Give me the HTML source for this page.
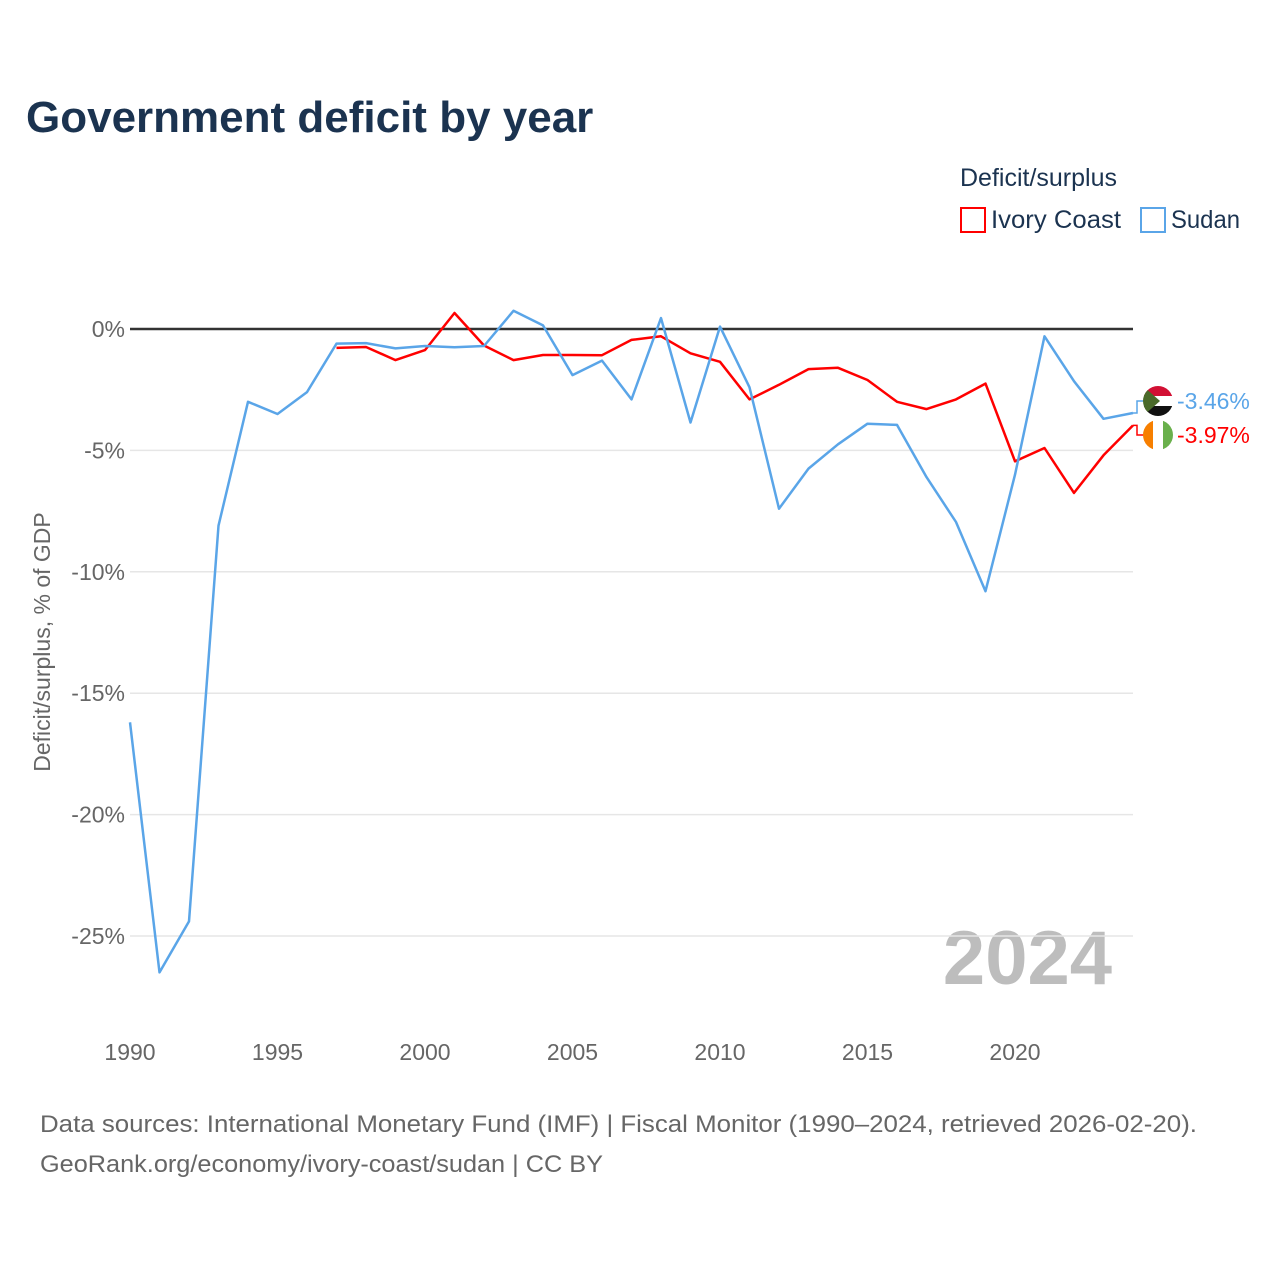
<!DOCTYPE html>
<html><head><meta charset="utf-8"><style>
body{margin:0;width:1280px;height:1280px;background:#fff;font-family:"Liberation Sans",sans-serif;overflow:hidden}
</style></head><body>
<svg id="c" width="1280" height="1280" xmlns="http://www.w3.org/2000/svg">
<text x="26" y="132" font-size="44" font-weight="bold" fill="#1b3350">Government deficit by year</text>
<text x="960" y="186" font-size="25" fill="#1b3350">Deficit/surplus</text>
<g><rect x="961" y="208" width="24" height="24" fill="none" stroke="#ff0000" stroke-width="2"/><text x="991" y="228" font-size="25" fill="#1b3350" textLength="130" lengthAdjust="spacingAndGlyphs">Ivory Coast</text></g>
<g><rect x="1141" y="208" width="24" height="24" fill="none" stroke="#5aa5e8" stroke-width="2"/><text x="1171" y="228" font-size="25" fill="#1b3350" textLength="69" lengthAdjust="spacingAndGlyphs">Sudan</text></g>
<text transform="translate(50,642) rotate(-90)" text-anchor="middle" font-size="23" fill="#666">Deficit/surplus, % of GDP</text>
<text x="1112" y="984" text-anchor="end" font-size="76" font-weight="bold" fill="#bdbdbd">2024</text>
<text x="40" y="1132" font-size="24" fill="#666" textLength="1157" lengthAdjust="spacingAndGlyphs">Data sources: International Monetary Fund (IMF) | Fiscal Monitor (1990–2024, retrieved 2026-02-20).</text>
<text x="40" y="1172" font-size="24" fill="#666" textLength="563" lengthAdjust="spacingAndGlyphs">GeoRank.org/economy/ivory-coast/sudan | CC BY</text>
<g id="plot"></g>
</svg>
<script>
const years=[];for(let y=1990;y<=2024;y++)years.push(y);
const sudan=[-16.2,-26.5,-24.4,-8.1,-3.0,-3.5,-2.6,-0.6,-0.58,-0.8,-0.7,-0.75,-0.7,0.75,0.15,-1.9,-1.3,-2.9,0.45,-3.85,0.1,-2.4,-7.4,-5.75,-4.75,-3.9,-3.95,-6.1,-7.95,-10.8,-6.0,-0.3,-2.15,-3.7,-3.46];
const ivory=[null,null,null,null,null,null,null,-0.78,-0.74,-1.28,-0.87,0.66,-0.68,-1.28,-1.07,-1.07,-1.08,-0.45,-0.3,-1.0,-1.35,-2.9,-2.3,-1.65,-1.6,-2.1,-3.0,-3.3,-2.9,-2.25,-5.45,-4.9,-6.75,-5.2,-3.97];
const yTicks=[0,-5,-10,-15,-20,-25];
const xTicks=[1990,1995,2000,2005,2010,2015,2020];
const NS="http://www.w3.org/2000/svg";
const X=y=>130+(y-1990)*(1133-130)/34;
const Y=v=>329-v*24.28;
const g=document.getElementById('plot');
function mk(t,a){const e=document.createElementNS(NS,t);for(const k in a)e.setAttribute(k,a[k]);g.appendChild(e);return e;}
yTicks.forEach(v=>{
 const l=mk('line',{x1:130,x2:1133,y1:Y(v),y2:Y(v),stroke:v===0?'#333':'#e6e6e6','stroke-width':v===0?2.5:1.5});
 
 
 const t=mk('text',{x:125,y:Y(v)+8,'text-anchor':'end','font-size':23,fill:'#666'});t.textContent=v+'%';
 
 
});
xTicks.forEach(yr=>{
 const t=mk('text',{x:X(yr),y:1060,'text-anchor':'middle','font-size':23,fill:'#666'});t.textContent=yr;
 
 
});
function line(vals,col,name){
 let d='';vals.forEach((v,i)=>{if(v===null)return;d+=(d?'L':'M')+X(years[i]).toFixed(1)+','+Y(v).toFixed(1);});
 const p=mk('path',{d:d,fill:'none',stroke:col,'stroke-width':2.5,'stroke-linejoin':'round'});
 
 
}
line(ivory,'#ff0000','ivory-coast-line');
line(sudan,'#5aa5e8','sudan-line');
const sl=sudan[sudan.length-1],il=ivory[ivory.length-1];
const sy=401,iy=435;
mk('path',{d:`M${X(2024)},${Y(sl)}H1137V${sy}H1145`,fill:'none',stroke:'#5aa5e8','stroke-width':1.5});
mk('path',{d:`M${X(2024)},${Y(il)}H1137V${iy}H1145`,fill:'none',stroke:'#ff0000','stroke-width':1.5});
const cp=document.createElementNS(NS,'clipPath');cp.setAttribute('id','cs');const cc=document.createElementNS(NS,'circle');cc.setAttribute('cx',1158);cc.setAttribute('cy',sy);cc.setAttribute('r',15);cp.appendChild(cc);g.appendChild(cp);
const cp2=document.createElementNS(NS,'clipPath');cp2.setAttribute('id','ci');const cc2=document.createElementNS(NS,'circle');cc2.setAttribute('cx',1158);cc2.setAttribute('cy',iy);cc2.setAttribute('r',15);cp2.appendChild(cc2);g.appendChild(cp2);
[['#d21034',0],['#fff',10],['#111',20]].forEach(([c,o])=>{mk('rect',{x:1143,y:sy-15+o,width:30,height:10,fill:c,'clip-path':'url(#cs)'});});
mk('polygon',{points:`1143,${sy-15} 1160,${sy} 1143,${sy+15}`,fill:'#4a6a2a','clip-path':'url(#cs)'});
[['#f77f00',0],['#fff',10],['#6ab04c',20]].forEach(([c,o])=>{mk('rect',{x:1143+o,y:iy-15,width:10,height:30,fill:c,'clip-path':'url(#ci)'});});
const t1=mk('text',{x:1177,y:sy+8,'font-size':23,fill:'#5aa5e8'});t1.textContent=sl.toFixed(2)+'%';


const t2=mk('text',{x:1177,y:iy+8,'font-size':23,fill:'#ff0000'});t2.textContent=il.toFixed(2)+'%';


</script>
</body></html>
